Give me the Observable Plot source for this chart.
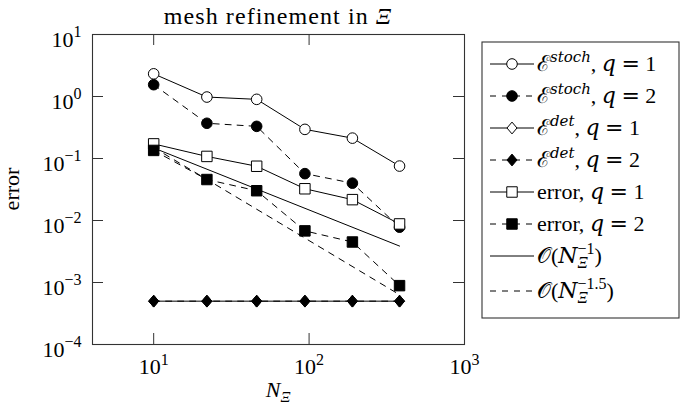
<!DOCTYPE html>
<html><head><meta charset="utf-8">
<script src="https://cdn.jsdelivr.net/npm/d3@7"></script>
<script src="https://cdn.jsdelivr.net/npm/@observablehq/plot@0.6"></script>
<style>
body{margin:0;background:#fff;}
#chart{position:relative;width:681px;height:410px;}
</style></head><body><div id="chart"></div>
<script>
// ---- data ----
const N = [10, 22, 46, 94, 190, 382];
const stochQ1 = [2.32, 0.98, 0.90, 0.295, 0.213, 0.0755];
const stochQ2 = [1.55, 0.37, 0.33, 0.057, 0.040, 0.0078];
const detQ1 = [5e-4, 5e-4, 5e-4, 5e-4, 5e-4, 5e-4];
const detQ2 = [5e-4, 5e-4, 5e-4, 5e-4, 5e-4, 5e-4];
const errQ1 = [0.172, 0.108, 0.075, 0.0325, 0.0217, 0.0088];
const errQ2 = [0.135, 0.0458, 0.0302, 0.0068, 0.0045, 0.00089];
const refN = [10, 382];
const refOrder1 = [0.148, 0.00387];
const refOrder15 = [0.15, 0.000635];
const xTicks = [10, 100, 1000];
const xTickLabels = ["10^1", "10^2", "10^3"];
const yTicks = [1e-4, 1e-3, 1e-2, 1e-1, 1, 10];
const yTickLabels = ["10^−4", "10^−3", "10^−2", "10^−1", "10^0", "10^1"];
const titleText = "mesh refinement in ";
const titleSym = "Ξ";
const yLabelText = "error";

// ---- layout ----
const W = 681, H = 410;
const mL = 92, mR = 217, mT = 34, mB = 66;
const innerW = W - mL - mR, innerH = H - mT - mB;
const tickLen = 11;
const FONT = "'Liberation Serif', 'Times New Roman', serif";
const MATH = "'DejaVu Serif', serif";

const diamond = {draw(ctx, size) {
  const r = Math.sqrt(size / Math.PI), w = r * 0.85;
  ctx.moveTo(0, -r); ctx.lineTo(w, 0); ctx.lineTo(0, r); ctx.lineTo(-w, 0); ctx.closePath();
}};
const symbols = {circle: "circle", square: "square", diamond};
const sizes = {circle: 5.3, square: 5.9, diamond: 5.9};

const eq = v => [{t: " "}, {t: "=", m: 1}, {t: " " + v}];
const series = [
  {x: N, y: stochQ1, symbol: "circle", fill: "white", dashed: false,
   label: [{t: "ℰ"}, {t: "stoch", sup: 1, it: 1, m: 1}, {t: ", "}, {t: "q", it: 1, m: 1}, ...eq("1")]},
  {x: N, y: stochQ2, symbol: "circle", fill: "black", dashed: true,
   label: [{t: "ℰ"}, {t: "stoch", sup: 1, it: 1, m: 1}, {t: ", "}, {t: "q", it: 1, m: 1}, ...eq("2")]},
  {x: N, y: detQ1, symbol: "diamond", fill: "white", dashed: false,
   label: [{t: "ℰ"}, {t: "det", sup: 1, it: 1, m: 1}, {t: ", "}, {t: "q", it: 1, m: 1}, ...eq("1")]},
  {x: N, y: detQ2, symbol: "diamond", fill: "black", dashed: true,
   label: [{t: "ℰ"}, {t: "det", sup: 1, it: 1, m: 1}, {t: ", "}, {t: "q", it: 1, m: 1}, ...eq("2")]},
  {x: N, y: errQ1, symbol: "square", fill: "white", dashed: false,
   label: [{t: "error, "}, {t: "q", it: 1, m: 1}, ...eq("1")]},
  {x: N, y: errQ2, symbol: "square", fill: "black", dashed: true,
   label: [{t: "error, "}, {t: "q", it: 1, m: 1}, ...eq("2")]},
  {x: refN, y: refOrder1, symbol: null, dashed: false,
   label: [{t: "𝒪("}, {t: "N", it: 1, m: 1}, {t: "Ξ", sub: 1, it: 1}, {t: "−1", sup: 1, back: 1}, {t: ")"}]},
  {x: refN, y: refOrder15, symbol: null, dashed: true,
   label: [{t: "𝒪("}, {t: "N", it: 1, m: 1}, {t: "Ξ", sub: 1, it: 1}, {t: "−1.5", sup: 1, back: 1}, {t: ")"}]}
];
const DASH = "6,6";

const marks = [];
for (const s of series) {
  const data = s.x.map((d, i) => ({x: d, y: s.y[i]}));
  marks.push(Plot.line(data, {x: "x", y: "y", stroke: "black", strokeWidth: 1, strokeDasharray: s.dashed ? DASH : null}));
  if (s.symbol) marks.push(Plot.dot(data, {x: "x", y: "y", symbol: symbols[s.symbol], r: sizes[s.symbol], fill: s.fill, stroke: "black", strokeWidth: 1}));
}

const plot = Plot.plot({
  width: W, height: H,
  marginLeft: mL, marginRight: mR, marginTop: mT, marginBottom: mB,
  style: {fontFamily: FONT, fontSize: "22px", background: "white", color: "black"},
  x: {type: "log", domain: [4.04, 1000]},
  y: {type: "log", domain: [1e-4, 10]},
  marks: [
    Plot.frame({stroke: "#333", strokeWidth: 1.1}),
    Plot.tickX(xTicks, {x: d => d, insetTop: innerH - tickLen, stroke: "#333"}),
    Plot.tickX(xTicks, {x: d => d, insetBottom: innerH - tickLen, stroke: "#333"}),
    Plot.tickY(yTicks, {y: d => d, insetRight: innerW - tickLen, stroke: "#333"}),
    Plot.tickY(yTicks, {y: d => d, insetLeft: innerW - tickLen, stroke: "#333"}),
    Plot.axisX(xTicks, {anchor: "bottom", tickSize: 0, tickPadding: 14, label: null,
      tickFormat: d => xTickLabels[xTicks.indexOf(d)]}),
    Plot.axisY(yTicks, {anchor: "left", tickSize: 0, tickPadding: 11, label: null, dy: 5,
      tickFormat: d => yTickLabels[yTicks.findIndex(t => Math.abs(Math.log10(t) - Math.log10(d)) < 1e-6)]}),
    ...marks
  ]
});
document.getElementById("chart").appendChild(plot);

const svg = d3.select(plot);
// superscript tick labels
plot.querySelectorAll('g[aria-label="x-axis tick label"] text, g[aria-label="y-axis tick label"] text').forEach(t => {
  const s = t.textContent;
  const parts = s.split("^");
  t.textContent = "";
  const sel = d3.select(t);
  sel.append("tspan").text(parts[0]);
  if (parts[1] !== undefined) sel.append("tspan").attr("dy", -9.5).attr("font-size", 16).text(parts[1]);
});

function rich(textSel, segs, small = 15.5) {
  let shift = 0, subW = 0, carry = 0;
  for (const s of segs) {
    const target = s.sup ? -9.5 : s.sub ? 5 : 0;
    const ts = textSel.append("tspan").text(s.t);
    if (target - shift !== 0) ts.attr("dy", target - shift);
    shift = target;
    if (s.sup || s.sub) ts.attr("font-size", s.m ? small - 1 : small);
    if (s.it) ts.attr("font-style", "italic");
    if (s.m) ts.attr("font-family", MATH);
    let dx = carry; carry = 0;
    if (s.back) dx -= subW;
    if (dx) ts.attr("dx", dx);
    const w = ts.node().getComputedTextLength();
    if (s.sub) subW = w;
    if (s.back) { carry = Math.max(0, subW - w); subW = 0; }
  }
}

// title
const title = svg.append("text").attr("x", mL + innerW / 2).attr("y", 23.5)
  .attr("text-anchor", "middle").attr("font-size", 24).attr("letter-spacing", 1.1);
rich(title, [{t: titleText}, {t: titleSym, it: 1}]);

// x label
const xl = svg.append("text").attr("x", mL + innerW / 2).attr("y", 397)
  .attr("text-anchor", "middle").attr("font-size", 22);
rich(xl, [{t: "N", it: 1}, {t: "Ξ", sub: 1, it: 1}]);

// y label
svg.append("text").attr("transform", `translate(19,${mT + innerH / 2}) rotate(-90)`)
  .attr("text-anchor", "middle").attr("font-size", 22).text(yLabelText);

// legend
const lg = svg.append("g").attr("transform", "translate(482,42)");
lg.append("rect").attr("width", 197).attr("height", 276).attr("fill", "white").attr("stroke", "#333").attr("stroke-width", 1.1);
const rowY = [22, 54, 86, 118, 150, 182, 214, 249];
series.forEach((s, i) => {
  const y = rowY[i];
  const g = lg.append("g").attr("transform", `translate(0,${y})`);
  g.append("line").attr("x1", 8).attr("x2", 52).attr("stroke", "black").attr("stroke-width", 1)
    .attr("stroke-dasharray", s.dashed ? DASH : null);
  if (s.symbol) {
    const r = sizes[s.symbol];
    if (s.symbol === "circle") g.append("circle").attr("cx", 30).attr("r", r).attr("fill", s.fill).attr("stroke", "black");
    else g.append("path").attr("transform", "translate(30,0)")
      .attr("d", d3.symbol(s.symbol === "square" ? d3.symbolSquare : diamond, r * r * Math.PI)())
      .attr("fill", s.fill).attr("stroke", "black");
  }
  const t = g.append("text").attr("x", 55).attr("y", 7).attr("font-size", 22).attr("text-anchor", "start");
  rich(t, s.label, 16);
});
</script></body></html>
